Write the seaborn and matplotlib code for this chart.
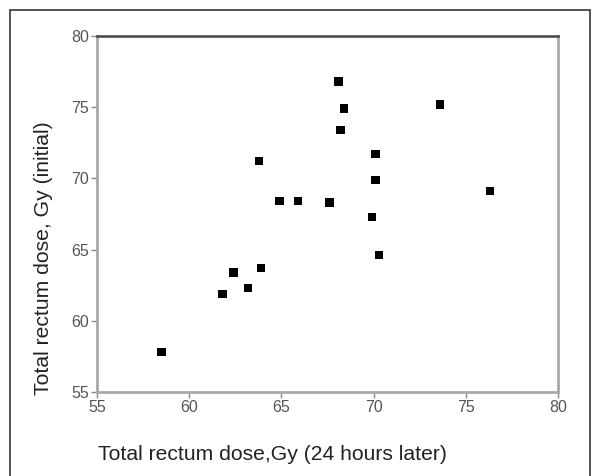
import matplotlib
matplotlib.use("Agg")
import matplotlib.pyplot as plt
from matplotlib.patches import Rectangle
import seaborn as sns
import pandas as pd

# Total rectum dose per patient (Gy)
dose_24h_later = [58.5, 61.8, 62.4, 63.2, 63.9, 63.8, 64.9, 65.9, 67.6,
                  68.1, 68.4, 68.2, 70.1, 70.1, 69.9, 70.3, 73.6, 76.3]
dose_initial = [57.8, 61.9, 63.4, 62.3, 63.7, 71.2, 68.4, 68.4, 68.3,
                76.8, 74.9, 73.4, 71.7, 69.9, 67.3, 64.6, 75.2, 69.1]
ticks = [55, 60, 65, 70, 75, 80]

df = pd.DataFrame({"later": dose_24h_later, "initial": dose_initial})

sns.set_theme(style="white")
plt.rcParams["font.family"] = ["Liberation Sans", "DejaVu Sans"]

fig = plt.figure(figsize=(5.92, 4.76), dpi=100)
ax = fig.add_axes([0.1639, 0.1765, 0.7787, 0.7479])

sns.scatterplot(data=df, x="later", y="initial", marker="s", s=36,
                color="black", edgecolor="none", ax=ax, legend=False)

ax.set_xlim(55, 80)
ax.set_ylim(55, 80)
ax.set_xticks(ticks)
ax.set_yticks(ticks)
ax.set_xticklabels([str(t) for t in ticks])
ax.set_yticklabels([str(t) for t in ticks])
ax.tick_params(axis="both", which="major", direction="out", length=4,
               width=1, color="#888888", labelsize=11.5, labelcolor="#555555",
               pad=2, bottom=True, left=True)

for side in ["left", "right", "bottom"]:
    ax.spines[side].set_visible(True)
    ax.spines[side].set_color("#a8a8a8")
    ax.spines[side].set_linewidth(2)
ax.spines["top"].set_visible(True)
ax.spines["top"].set_color("#444444")
ax.spines["top"].set_linewidth(1.8)

ax.set_xlabel("")
ax.set_ylabel("")
fig.text(98 / 592, 1 - 455 / 476, "Total rectum dose,Gy (24 hours later)",
         fontsize=15.2, color="#222222", ha="left", va="center")
fig.text(43.5 / 592, 1 - 258 / 476, "Total rectum dose, Gy (initial)",
         rotation=90, fontsize=15.2, color="#222222",
         ha="center", va="center")

# outer frame around the figure
fig.patches.append(Rectangle((10 / 592, -0.05), 580 / 592, 1.05 - 10 / 476,
                             transform=fig.transFigure, fill=False,
                             edgecolor="#333333", linewidth=1.2))

fig.savefig("out.png", dpi=100, facecolor="white")
